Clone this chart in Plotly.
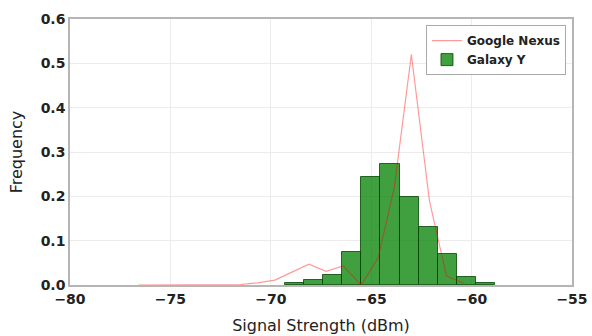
import plotly.graph_objects as go

# Galaxy Y histogram (bin edges and normalized frequencies)
bin_edges = [-69.28, -68.33, -67.38, -66.44, -65.49, -64.54, -63.59,
             -62.64, -61.69, -60.74, -59.78, -58.83]
galaxy_freq = [0.004, 0.011, 0.023, 0.075, 0.244, 0.272, 0.198,
               0.130, 0.069, 0.017, 0.004]

# Google Nexus frequency curve
nexus_x = [-76.6, -75.75, -74.9, -74.05, -73.2, -72.35, -71.5, -70.65,
           -69.8, -68.95, -68.1, -67.25, -66.4, -65.5, -64.65, -63.85,
           -63.0, -62.1, -61.25, -60.4]
nexus_y = [0.0, 0.0, 0.0, 0.0, 0.0, 0.0, 0.001, 0.005,
           0.011, 0.029, 0.047, 0.031, 0.043, 0.0, 0.062, 0.22,
           0.52, 0.19, 0.02, 0.004]

x_ticks = [-80, -75, -70, -65, -60, -55]
y_ticks = [0.0, 0.1, 0.2, 0.3, 0.4, 0.5, 0.6]

centers = [(a + b) / 2 for a, b in zip(bin_edges[:-1], bin_edges[1:])]
widths = [b - a for a, b in zip(bin_edges[:-1], bin_edges[1:])]

fig = go.Figure()
fig.add_trace(go.Bar(
    x=centers, y=galaxy_freq, width=widths, name="Galaxy Y",
    marker=dict(color="rgba(0,128,0,0.75)",
                line=dict(color="rgba(0,70,0,0.8)", width=1)),
))
fig.add_trace(go.Scatter(
    x=nexus_x, y=nexus_y, mode="lines", name="Google Nexus",
    line=dict(color="rgba(255,0,0,0.4)", width=1.2),
))

fig.update_layout(
    width=592, height=336,
    margin=dict(l=70, r=20, t=19, b=51),
    paper_bgcolor="white", plot_bgcolor="white",
    font=dict(family="DejaVu Sans", color="#222"),
    bargap=0,
    showlegend=True,
    legend=dict(x=0.988, y=0.977, xanchor="right", yanchor="top",
                bgcolor="white", bordercolor="#aaaaaa", borderwidth=1,
                traceorder="reversed",
                font=dict(size=12, weight="bold", color="#222"),
                itemwidth=30, tracegroupgap=0),
)
fig.update_xaxes(
    range=[-80, -55], tickvals=x_ticks, automargin=False,
    tickfont=dict(size=14, weight="bold", color="#222"),
    showgrid=True, gridcolor="#ececec", gridwidth=1, zeroline=False,
    showline=True, linecolor="#b5b5b5", linewidth=1.5, mirror=True,
    ticks="", title=dict(text="Signal Strength (dBm)", font=dict(size=16), standoff=14),
)
fig.update_yaxes(
    range=[0, 0.6], tickvals=y_ticks, tickformat=".1f", automargin=False,
    tickfont=dict(size=14, weight="bold", color="#222"),
    showgrid=True, gridcolor="#ececec", gridwidth=1, zeroline=False,
    showline=True, linecolor="#b5b5b5", linewidth=1.5, mirror=True,
    ticks="", title=dict(text="Frequency", font=dict(size=16), standoff=14),
)

fig.write_html("out.html")
